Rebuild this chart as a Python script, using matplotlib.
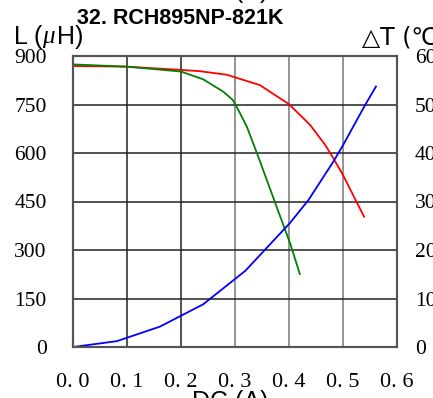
import matplotlib.pyplot as plt

# DC current (A) vs inductance / temperature rise
red_x = [0, 0.1, 0.2, 0.235, 0.285, 0.302, 0.346, 0.40, 0.439, 0.467, 0.482, 0.50, 0.525, 0.539]
red_L = [869, 867, 857, 853, 842, 833, 810, 751, 687, 625, 584, 532, 449, 403]

green_x = [0, 0.1, 0.2, 0.241, 0.278, 0.296, 0.309, 0.322, 0.343, 0.377, 0.402, 0.42]
green_L = [874, 867, 852, 828, 790, 764, 724, 681, 589, 434, 321, 226]

blue_x = [0, 0.081, 0.161, 0.241, 0.319, 0.402, 0.436, 0.482, 0.50, 0.541, 0.561]
blue_T = [0, 1.2, 4.2, 8.8, 15.7, 25.6, 30.3, 38.2, 41.6, 49.9, 53.7]

x_ticks = [0, 0.1, 0.2, 0.3, 0.4, 0.5, 0.6]
x_labels = ['0. 0', '0. 1', '0. 2', '0. 3', '0. 4', '0. 5', '0. 6']
L_ticks = [0, 150, 300, 450, 600, 750, 900]
T_ticks = [0, 10, 20, 30, 40, 50, 60]

title = '32. RCH895NP-821K'


def main():
    fig = plt.figure(figsize=(4.33, 3.98), dpi=100)
    ax = fig.add_axes([73 / 433, 51 / 398, 324 / 433, 291 / 398])
    ax2 = ax.twinx()

    ax.plot(red_x, red_L, color='#ff0000', lw=1.3)
    ax.plot(green_x, green_L, color='#008000', lw=1.3)
    ax2.plot(blue_x, blue_T, color='#0000ff', lw=1.3)

    ax.set_xlim(0, 0.6)
    ax.set_ylim(0, 900)
    ax2.set_ylim(0, 60)

    ax.set_xticks(x_ticks)
    ax.set_xticklabels(x_labels)
    ax.set_yticks(L_ticks)
    ax2.set_yticks(T_ticks)

    serif = ['Liberation Serif', 'DejaVu Serif']
    for lab in ax.get_xticklabels():
        lab.set_family(serif)
        lab.set_fontsize(16)
    for lab in ax.get_yticklabels() + ax2.get_yticklabels():
        lab.set_family(serif)
        lab.set_fontsize(15.5)
    ax.tick_params(axis='x', length=0, pad=19)
    ax.tick_params(axis='y', length=0, pad=19)
    ax2.tick_params(axis='y', length=0, pad=13)

    ax.grid(True, color='#222222', lw=1.1)
    # right-hand vertical grid lines look lighter in the original
    for gl in ax.get_xgridlines()[3:]:
        gl.set_color('#777777')
    ax.set_axisbelow(True)
    for a in (ax, ax2):
        for s in a.spines.values():
            s.set_color('#555555')
            s.set_linewidth(1.5)

    sans = ['Liberation Sans', 'DejaVu Sans']
    # titles and axis captions
    fig.text(77 / 433, 1 - 18 / 398, title, fontsize=15.5, fontweight='bold',
             family=sans, va='center', ha='left')
    fig.text(14 / 433, 1 - 37 / 398, 'L (', fontsize=18,
             family=sans, va='center', ha='left')
    fig.text(42 / 433, 1 - 37 / 398, 'μ', fontsize=18, style='italic',
             family=['Liberation Serif', 'DejaVu Serif'], va='center', ha='left')
    fig.text(57 / 433, 1 - 37 / 398, 'H)', fontsize=18,
             family=sans, va='center', ha='left')
    fig.text(362 / 433, 1 - 37 / 398, '△T (℃)', fontsize=17,
             family=['DejaVu Sans', 'Noto Sans CJK SC'], va='center', ha='left')
    fig.text(230 / 433, 1 - 402 / 398, 'DC (A)', fontsize=18,
             family=sans, va='center', ha='center')
    fig.text(230 / 433, 1 + 9 / 398, 'DC (A)', fontsize=18,
             family=sans, va='center', ha='center')

    fig.savefig('out.png', dpi=100)


if __name__ == '__main__':
    main()
